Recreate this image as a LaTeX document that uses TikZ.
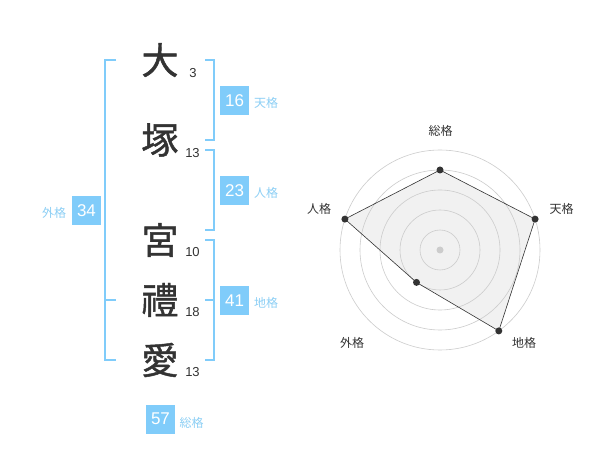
\documentclass[tikz,border=0pt]{standalone}
\usepackage{fontspec}
\setmainfont{Liberation Sans}
\newfontfamily\jp{Noto Sans CJK JP}
\newfontfamily\jpbig[FakeBold=1.2]{Noto Sans CJK JP}
\definecolor{bl}{HTML}{80CCFA}
\definecolor{bltxt}{HTML}{8CCFF5}
\definecolor{ink}{HTML}{333333}
\definecolor{ring}{HTML}{CCCCCC}
\definecolor{area}{HTML}{F1F1F1}
\begin{document}
\begin{tikzpicture}[x=1pt,y=-1pt,
  kanji/.style={inner sep=0pt,text=ink,font=\jpbig\fontsize{37}{37}\selectfont},
  strokes/.style={inner sep=0pt,text=ink,font=\fontsize{13}{13}\selectfont},
  valbox/.style={fill=bl,text=white,minimum width=29pt,minimum height=29pt,inner sep=0pt,font=\fontsize{17}{17}\selectfont},
  kaku/.style={inner sep=0pt,text=bltxt,font=\jp\fontsize{12}{12}\selectfont},
  bracket/.style={draw=bl,line width=2pt},
  axislab/.style={inner sep=0pt,text=ink,font=\jp\fontsize{12}{12}\selectfont},
  vdot/.style={circle,fill=ink,inner sep=0pt,minimum size=7pt}]
\useasboundingbox (0,0) rectangle (600,470);
\fill[white] (0,0) rectangle (600,470);
% kanji
\node[kanji] (k1) at (160,60) {大};
\node[kanji] (k2) at (160,140) {塚};
\node[kanji] (k3) at (160,240) {宮};
\node[kanji] (k4) at (160,300) {禮};
\node[kanji] (k5) at (160,360) {愛};
\node[strokes] (s1) at (193,73) {3};
\node[strokes] (s2) at (192.5,153) {13};
\node[strokes] (s3) at (192.5,252.5) {10};
\node[strokes] (s4) at (192.5,312.5) {18};
\node[strokes] (s5) at (192.5,372.5) {13};
% brackets
\draw[bracket] (116,60) -- (105,60) -- (105,360) -- (116,360);
\draw[bracket] (105,300) -- (116,300);
\draw[bracket] (205,60) -- (214,60) -- (214,140) -- (205,140);
\draw[bracket] (205,150) -- (214,150) -- (214,230) -- (205,230);
\draw[bracket] (205,240) -- (214,240) -- (214,360) -- (205,360);
\draw[bracket] (205,300) -- (214,300);
% values
\node[valbox] (v16) at (234.5,100.5) {16};
\node[kaku] (l16) at (266,103) {天格};
\node[valbox] (v23) at (234.5,190.5) {23};
\node[kaku] (l23) at (266,193) {人格};
\node[valbox] (v41) at (234.5,300.5) {41};
\node[kaku] (l41) at (266,303) {地格};
\node[valbox] (v34) at (86.5,210.5) {34};
\node[kaku] (l34) at (54,213) {外格};
\node[valbox] (v57) at (160.5,419) {57};
\node[kaku] (l57) at (191.5,423) {総格};
% radar
\coordinate (c) at (440,250);
\coordinate (p1) at (440,170);
\coordinate (p2) at (535.1,219.1);
\coordinate (p3) at (498.8,330.9);
\coordinate (p4) at (416.5,282.4);
\coordinate (p5) at (344.9,219.1);
\fill[area] (p1) -- (p2) -- (p3) -- (p4) -- (p5) -- cycle;
\foreach \r in {20,40,60,80,100} \draw[ring,line width=0.6pt] (c) circle (\r);
\fill[ring] (c) circle (3.5);
\draw[ink,line width=0.6pt] (p1) -- (p2) -- (p3) -- (p4) -- (p5) -- cycle;
\foreach \p in {p1,p2,p3,p4,p5} \node[vdot] at (\p) {};
\node[axislab] (a1) at (440.5,131) {総格};
\node[axislab] (a2) at (561.5,209) {天格};
\node[axislab] (a3) at (524,342.5) {地格};
\node[axislab] (a4) at (352,342.5) {外格};
\node[axislab] (a5) at (319,209) {人格};
\end{tikzpicture}
\end{document}
